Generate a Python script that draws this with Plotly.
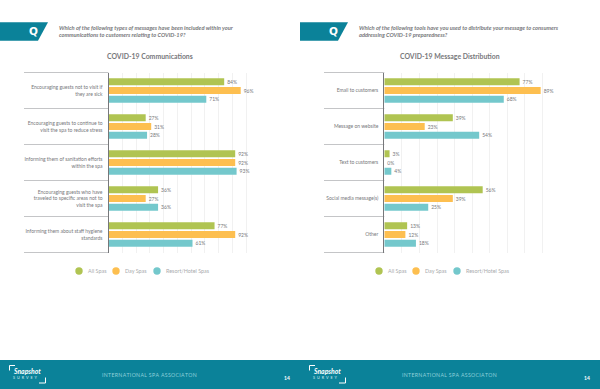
import plotly.graph_objects as go

series_names = ["All Spas", "Day Spas", "Resort/Hotel Spas"]
colors = ["#b0c452", "#fdbf50", "#74c8cc"]

left_title = "COVID-19 Communications"
left_question = "Which of the following types of messages have been included within your<br>communications to customers relating to COVID-19?"
left_categories = [
    "Encouraging guests not to visit if<br>they are sick",
    "Encouraging guests to continue to<br>visit the spa to reduce stress",
    "Informing them of sanitation efforts<br>within the spa",
    "Encouraging guests who have<br>traveled to specific areas not to<br>visit the spa",
    "Informing them about staff hygiene<br>standards",
]
left_all = [84, 27, 92, 36, 77]
left_day = [96, 31, 92, 27, 92]
left_resort = [71, 28, 93, 36, 61]

right_title = "COVID-19 Message Distribution"
right_question = "Which of the following tools have you used to distribute your message to consumers<br>addressing COVID-19 preparedness?"
right_categories = ["Email to customers", "Message on website", "Text to customers",
                    "Social media message(s)", "Other"]
right_all = [77, 39, 3, 56, 13]
right_day = [89, 23, 0, 39, 12]
right_resort = [68, 54, 4, 25, 18]

footer_org = "INTERNATIONAL SPA ASSOCIATON"
page_no = "14"

W, H = 600, 389
TEAL = "#0b8299"
TEXT = "#77787b"
FONT = "Lato"


def px(x):
    return x / W


def py(y):
    return 1 - y / H


fig = go.Figure()
panels = [
    ("x", "y", left_categories, [left_all, left_day, left_resort]),
    ("x2", "y2", right_categories, [right_all, right_day, right_resort]),
]
for xa, ya, cats, vals in panels:
    for name, col, v in zip(series_names, colors, vals):
        fig.add_trace(go.Bar(
            x=v, y=cats, orientation="h", name=name, xaxis=xa, yaxis=ya,
            marker=dict(color=col, line=dict(width=0)),
            text=[f"{n}%" for n in v], textposition="outside", cliponaxis=False,
            textfont=dict(size=5, color=TEXT, family=FONT),
            showlegend=False, hoverinfo="skip",
        ))

grid = "#f1f1f1"
y_dom = [py(252.5), py(72.5)]
common_x = dict(showticklabels=False, ticks="", showgrid=True, gridcolor=grid, gridwidth=1,
                dtick=10, zeroline=False, showline=False, fixedrange=True)
common_y = dict(autorange="reversed", ticks="outside", ticklen=4, tickcolor="rgba(0,0,0,0)",
                showgrid=False, zeroline=False, showline=True, linecolor="#77787b", linewidth=1,
                tickfont=dict(size=5, color=TEXT, family=FONT), domain=y_dom, fixedrange=True)

shapes = []
annotations = []


def rect_line(x0, y0, x1, y1, color, w=1):
    shapes.append(dict(type="line", xref="paper", yref="paper", x0=px(x0), x1=px(x1),
                       y0=py(y0), y1=py(y1), line=dict(color=color, width=w), layer="below"))


def label(x, y, text, size, color=TEXT, bold=False, italic=False, anchor="left", family=FONT):
    if bold:
        text = f"<b>{text}</b>"
    if italic:
        text = f"<i>{text}</i>"
    annotations.append(dict(xref="paper", yref="paper", x=px(x), y=py(y), text=text, showarrow=False,
                            xanchor=anchor, yanchor="middle", align=anchor,
                            font=dict(size=size, color=color, family=family)))


shapes.append(dict(type="rect", xref="paper", yref="paper", x0=0, x1=1, y0=py(389), y1=py(360),
                   fillcolor=TEAL, line=dict(width=0), layer="below"))

for off, axis_x, title, title_x, question in [
    (0, 108.5, left_title, 150, left_question),
    (300, 84.3, right_title, 150, right_question),
]:
    # question tab
    path = f"M {px(off)} {py(22.3)} L {px(off + 48)} {py(22.3)} L {px(off + 38)} {py(40.7)} L {px(off)} {py(40.7)} Z"
    shapes.append(dict(type="path", xref="paper", yref="paper", path=path, fillcolor=TEAL, line=dict(width=0)))
    label(off + 33, 31.5, "Q", 10.5, "#ffffff", bold=True, anchor="center", family="DejaVu Sans")
    label(off + 57, 31, question, 5.7, TEXT, bold=True, italic=True)
    label(off + title_x, 56, title, 6.9, TEXT, bold=True, anchor="center")
    # row separators
    for i in range(6):
        rect_line(off + 24, 72.5 + 36 * i, off + axis_x, 72.5 + 36 * i, "#c4c5c7", 1)
    # legend
    for cx, tx, col, name in zip([79, 116, 157], [86, 123, 164], colors, series_names):
        shapes.append(dict(type="circle", xref="paper", yref="paper",
                           x0=px(off + cx - 3.7), x1=px(off + cx + 3.7),
                           y0=py(271 + 3.7), y1=py(271 - 3.7), fillcolor=col, line=dict(width=0)))
        label(off + tx, 271, name, 5.4, "#a9abae")
    # footer
    label(off + 11, 371, "Snapshot", 6.8, "#ffffff", bold=True, italic=True)
    label(off + 11, 377.5, "\u2002".join("SURVEY"), 3.8, "#d7eef2")
    rect_line(off + 9.5, 365.5, off + 9.5, 370.5, "#ffffff", 1)
    rect_line(off + 9.5, 365.5, off + 15, 365.5, "#ffffff", 1)
    rect_line(off + 45.5, 377.5, off + 45.5, 383, "#ffffff", 1)
    rect_line(off + 39, 383, off + 45.5, 383, "#ffffff", 1)
    label(off + 100, 375, "\u200a".join(footer_org), 5.2, "#8fd0da")
    label(off + 287, 377.5, page_no, 5, "#ffffff", bold=True, anchor="center")

fig.update_layout(
    width=W, height=H, autosize=False,
    margin=dict(l=0, r=0, t=0, b=0),
    paper_bgcolor="#ffffff", plot_bgcolor="rgba(0,0,0,0)",
    barmode="group", bargap=0.278, bargroupgap=0.19,
    showlegend=False,
    font=dict(family=FONT, color=TEXT),
    xaxis=dict(domain=[px(108.5), px(260)], range=[0, 110], anchor="y", **common_x),
    yaxis=dict(anchor="x", **common_y),
    xaxis2=dict(domain=[px(384.3), px(560)], range=[0, 100], anchor="y2", **common_x),
    yaxis2=dict(anchor="x2", **common_y),
    shapes=shapes, annotations=annotations,
)
fig.write_html("out.html", config={"displayModeBar": False},
               post_script="document.body.style.margin='0';document.body.style.overflow='hidden';")
